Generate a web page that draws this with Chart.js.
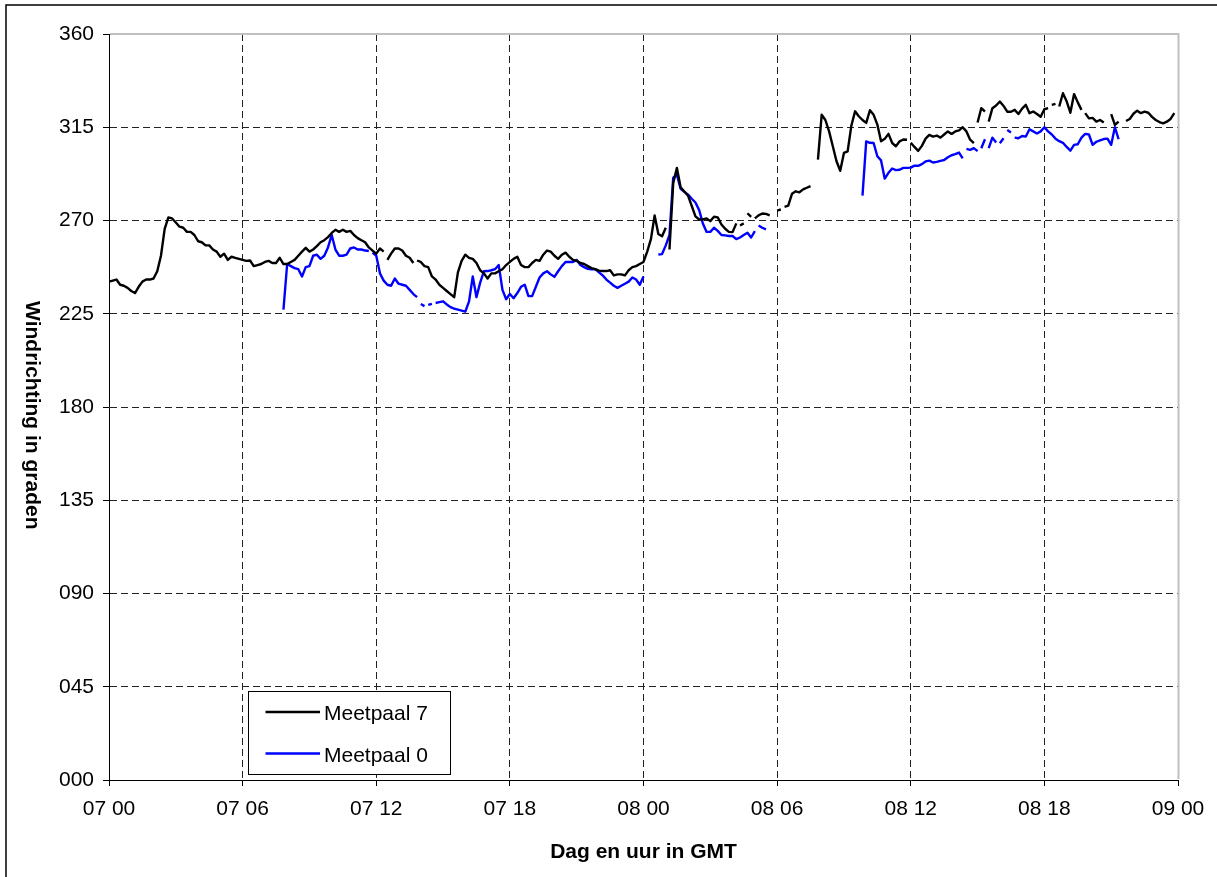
<!DOCTYPE html>
<html><head><meta charset="utf-8">
<script src="https://cdn.jsdelivr.net/npm/chart.js@4"></script>
<style>html,body{margin:0;padding:0;background:#fff;overflow:hidden}canvas{display:block}</style>
</head><body>
<canvas id="c" width="1217" height="877" style="width:1217px;height:877px"></canvas>
<script>
// Time step of the series: 10 minutes, starting at day 07 00 GMT (hours from start)
const STEP_HOURS = 1 / 6;
const xTickLabels = ['07 00', '07 06', '07 12', '07 18', '08 00', '08 06', '08 12', '08 18', '09 00'];
const yTickLabels = ['000', '045', '090', '135', '180', '225', '270', '315', '360'];
const seriesNames = ['Meetpaal 7', 'Meetpaal 0'];

// Meetpaal 7 wind direction (degrees), one value per 10 minutes
const meetpaal7 = [
  240.5, 241, 241.5, 239, 238.5, 237.5, 236, 235, 238, 240.5, 241.5, 241.5,
  242, 245.5, 253, 266, 271.5, 271, 269, 267, 266.5, 264.5, 264.5, 263,
  260, 259.5, 258, 258, 256, 255, 252.5, 254, 251, 252.5, 252, 251.5,
  251, 250.5, 250.7, 248, 248.5, 249, 250, 250.5, 249.5, 249.5, 252, 249,
  249, 250, 251, 253, 255, 256.8, 255, 256, 257.6, 259.5, 260.5, 262,
  264, 265.5, 264.5, 265.5, 264.5, 265, 263, 261.5, 260.5, 259.5, 257, 255.5,
  254, 256.5, 255, 251, 254, 256.5, 256.5, 255.5, 253, 252, 249.5, 250.7,
  250, 248, 247.5, 243, 241.5, 239, 237.5, 236, 234.5, 233, 245, 250.5,
  253.5, 252, 251.5, 249.5, 246, 244.5, 242, 244.5, 244.5, 245.5, 246.5, 248.5,
  250, 251.5, 252.5, 248.5, 247.5, 247.5, 249.5, 251, 250.5, 253.5, 255.5, 255,
  253, 251.5, 253.5, 254.5, 252.5, 251, 250.5, 249.5, 249, 248, 247, 246.5,
  245.8, 245.6, 245.6, 246, 243.5, 244, 244, 243.5, 246, 247.5, 248, 249,
  250, 255, 261, 272.4, 263.5, 262.4, 266.5, 256, 288, 295.4, 286, 284,
  282, 277, 272, 270.5, 270.5, 271, 269.7, 271.8, 271.5, 268.1, 266, 264.5,
  264.4, 268.6, 267.6, 268.6, 273.5, 271.8, 271, 272.5, 273.4, 273.2, 272.5, null,
  274.8, 275.3, 276.6, 277.2, 282.9, 284.1, 283.6, 285, 285.8, 286.6, null, 299.4,
  321, 318.5, 313, 305.8, 298.6, 294, 302.6, 303.4, 315.8, 322.7, 320.3, 318.5,
  317.1, 323.2, 321, 316.3, 308.2, 309.4, 311.8, 307.4, 305.8, 308.2, 309.1, 309,
  307.5, 305.5, 303.6, 306, 309.5, 311.3, 310.5, 311, 310, 311.5, 313, 311.8,
  313, 313.5, 315, 313, 309, 307.3, 317.3, 324.2, 322.6, 317.7, 324.2, 325.5,
  327.4, 325.3, 322.5, 322.5, 323.4, 321.4, 324, 325.8, 321.8, 322.6, 321.4, 320.1,
  323.7, 324.2, 325.8, 326.3, 325, 331.4, 327.5, 322, 331, 327, 323.4, 321.8,
  319.3, 319.5, 317.7, 318.5, 317.3, null, 321.3, 316.1, 317.7, null, 318, 319,
  321.5, 323, 321.8, 322.5, 322, 320, 318.5, 317.5, 316.9, 317.7, 319, 321.8
];
// indices after which a single 10-minute record is missing in Meetpaal 7
const meetpaal7Gaps = [74, 82, 150, 169, 171, 173, 181, 215, 233, 236, 253, 255, 262];

// Meetpaal 0 wind direction (degrees), one value per 10 minutes
const meetpaal0 = [
  null, null, null, null, null, null, null, null, null, null, null, null,
  null, null, null, null, null, null, null, null, null, null, null, null,
  null, null, null, null, null, null, null, null, null, null, null, null,
  null, null, null, null, null, null, null, null, null, null, null, 227,
  249, 248, 247, 246.5, 243, 247.5, 248, 253, 253.5, 251.5, 253, 257,
  263, 256, 253, 253, 253.5, 256.5, 257, 256, 256, 255.5, 255.3, 254.5,
  253, 244.5, 241, 239, 238.5, 242, 239.5, 239, 238.5, 236.5, 234.5, 233,
  229.7, 228.7, 229.3, 229.8, 230.2, 230.6, 231, 229.5, 228.2, 227.5, 227, 226.5,
  226, 231, 243, 233, 240, 245.5, 245.6, 246, 246.5, 248.5, 236.5, 232,
  234.5, 232.5, 235, 238, 239, 233.5, 233.5, 238, 242.5, 244.5, 245.5, 244,
  242.8, 245.5, 248, 250, 250, 250, 251, 248.5, 247.5, 246.7, 246.5, 246.5,
  245, 243.5, 241.5, 240, 238.5, 237.5, 238.5, 239.5, 240.5, 242.5, 241.5, 239,
  243, null, null, null, 253.6, 253.8, 258, 263, 290.6, 292, 285.3, 283.8,
  282.5, 280.5, 278.7, 275, 268.5, 264.5, 264.5, 266.5, 265, 263, 262.8, 262.5,
  262.5, 261, 261.8, 263, 264.1, 261.8, 264.9, 267.6, 266.5, 265.7, null, null,
  null, null, null, null, null, null, null, null, null, null, null, null,
  null, null, null, null, null, null, null, null, null, null, null, 282,
  308.2, 307.5, 307.4, 301, 299, 290.2, 293, 295.1, 294.3, 294.5, 295.4, 295.4,
  295.5, 296.5, 296.4, 297.2, 298.5, 298.9, 298, 298.3, 298.8, 299.2, 300.5, 301.5,
  302, 302.8, 300, 304.6, 304.1, 304.9, 303.5, 304.9, 309.2, 304.9, 310, 307.6,
  307.3, 309.7, 313.7, 312.5, 310, 309.7, 310.8, 310.5, 314, 313, 312, 313,
  315, 313, 311.5, 309.5, 308.3, 307.5, 305.5, 303.7, 306.5, 306.8, 310, 311.8,
  311.5, 306.5, 308, 308.7, 309.3, 309.5, 306.5, 315, 309.2, null, null, null,
  null, null, null, null, null, null, null, null, null, null, null, null
];
const meetpaal0Gaps = [70, 83, 85, 87, 174, 230, 234, 236, 239, 241, 243];

function buildPoints(values, gapsAfter) {
  const pts = [];
  values.forEach((v, i) => {
    pts.push({ x: i * STEP_HOURS, y: v });
    if (gapsAfter.includes(i)) pts.push({ x: (i + 0.5) * STEP_HOURS, y: null });
  });
  return pts;
}

const FONT = '"Liberation Sans", Arial, sans-serif';

const framePlugin = {
  id: 'frame',
  beforeDraw(chart) {
    const ctx = chart.ctx;
    ctx.save();
    ctx.fillStyle = '#fff';
    ctx.fillRect(0, 0, chart.width, chart.height);
    ctx.strokeStyle = '#000';
    ctx.lineWidth = 1.5;
    ctx.beginPath();
    ctx.moveTo(6, chart.height + 5);
    ctx.lineTo(6, 5);
    ctx.lineTo(chart.width + 5, 5);
    ctx.stroke();
    ctx.restore();
  },
  beforeDatasetsDraw(chart) {
    const { ctx, chartArea } = chart;
    ctx.save();
    ctx.strokeStyle = '#c0c0c0';
    ctx.lineWidth = 2;
    ctx.beginPath();
    ctx.moveTo(chartArea.left + 1, chartArea.top);
    ctx.lineTo(chartArea.right + 0.5, chartArea.top);
    ctx.lineTo(chartArea.right + 0.5, chartArea.bottom - 1);
    ctx.stroke();
    ctx.restore();
  },
  afterDraw(chart) {
    const ctx = chart.ctx;
    ctx.save();
    // y axis title, rotated clockwise as in the original
    ctx.translate(26, 301);
    ctx.rotate(Math.PI / 2);
    ctx.font = 'bold 21px ' + FONT;
    ctx.fillStyle = '#000';
    ctx.textAlign = 'left';
    ctx.textBaseline = 'alphabetic';
    ctx.fillText('Windrichting in graden', 0, 0);
    ctx.restore();

    // boxed legend inside the plot area
    ctx.save();
    ctx.fillStyle = '#fff';
    ctx.fillRect(248.5, 691.5, 202, 83);
    ctx.strokeStyle = '#000';
    ctx.lineWidth = 1;
    ctx.strokeRect(248.5, 691.5, 202, 83);
    chart.data.datasets.forEach((ds, i) => {
      const ly = 712 + i * 41.6;
      ctx.strokeStyle = ds.borderColor;
      ctx.lineWidth = 2.5;
      ctx.beginPath();
      ctx.moveTo(265.5, ly);
      ctx.lineTo(320, ly);
      ctx.stroke();
      ctx.fillStyle = '#000';
      ctx.font = '21px ' + FONT;
      ctx.textAlign = 'left';
      ctx.textBaseline = 'alphabetic';
      ctx.fillText(ds.label, 324, ly + 8.2);
    });
    ctx.restore();
  }
};

const gridColor = (edgeValue) => (c) => (c.tick && c.tick.value === edgeValue) ? 'rgba(0,0,0,0)' : '#222';

new Chart(document.getElementById('c'), {
  type: 'line',
  data: {
    datasets: [
      {
        label: seriesNames[0],
        data: buildPoints(meetpaal7, meetpaal7Gaps),
        borderColor: '#000000',
        borderWidth: 2.4,
        pointRadius: 0,
        pointHoverRadius: 0,
        tension: 0,
        spanGaps: false,
        borderJoinStyle: 'round',
        fill: false
      },
      {
        label: seriesNames[1],
        data: buildPoints(meetpaal0, meetpaal0Gaps),
        borderColor: '#0000ff',
        borderWidth: 2.4,
        pointRadius: 0,
        pointHoverRadius: 0,
        tension: 0,
        spanGaps: false,
        borderJoinStyle: 'round',
        fill: false
      }
    ]
  },
  options: {
    responsive: false,
    devicePixelRatio: 1,
    animation: false,
    events: [],
    layout: { padding: { left: 0, right: 39, top: 34, bottom: 0 } },
    plugins: {
      legend: { display: false },
      tooltip: { enabled: false }
    },
    scales: {
      x: {
        type: 'linear',
        min: 0,
        max: 48,
        afterFit: (s) => { s.height = 97; },
        ticks: {
          stepSize: 6,
          autoSkip: false,
          maxRotation: 0,
          padding: 11,
          color: '#000',
          font: { family: FONT, size: 21 },
          callback: (v) => xTickLabels[Math.round(v / 6)]
        },
        grid: {
          color: gridColor(48),
          lineWidth: 1,
          tickLength: 6,
          tickColor: '#000',
          tickWidth: 1
        },
        border: { display: true, color: '#000', width: 1, dash: [7, 4] },
        title: {
          display: true,
          text: 'Dag en uur in GMT',
          color: '#000',
          font: { family: FONT, size: 21, weight: 'bold' },
          padding: { top: 0, bottom: 12 }
        }
      },
      y: {
        type: 'linear',
        min: 0,
        max: 360,
        afterFit: (s) => { s.width = 109; },
        ticks: {
          stepSize: 45,
          autoSkip: false,
          padding: 9,
          color: '#000',
          font: { family: FONT, size: 21 },
          callback: (v) => yTickLabels[Math.round(v / 45)]
        },
        grid: {
          color: gridColor(360),
          lineWidth: 1,
          tickLength: 6,
          tickColor: '#000',
          tickWidth: 1
        },
        border: { display: true, color: '#000', width: 1, dash: [7, 4] }
      }
    }
  },
  plugins: [framePlugin]
});
</script>
</body></html>
